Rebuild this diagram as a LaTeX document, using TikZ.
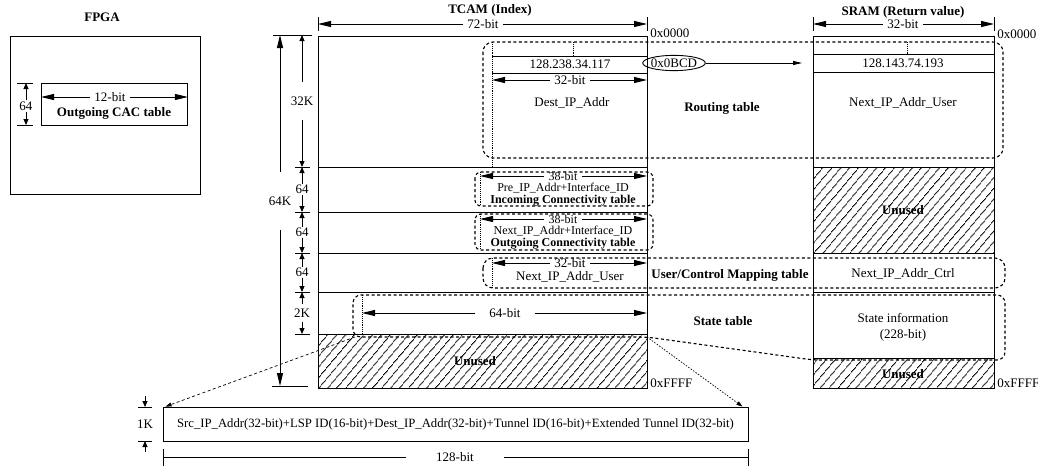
\documentclass[tikz,border=0pt]{standalone}
\usepackage{fontspec}
\setmainfont{Liberation Serif}
\usetikzlibrary{arrows.meta, shapes.geometric, patterns.meta}

\begin{document}
\begin{tikzpicture}[x=1pt, y=-1pt, line width=0.9pt,
    every node/.style={font=\fontsize{13}{15}\selectfont, inner sep=1pt},
    tbl/.style={font=\bfseries\fontsize{13}{15}\selectfont},
    small/.style={font=\fontsize{12}{13}\selectfont, inner ysep=0pt},
    smalltbl/.style={font=\bfseries\fontsize{12}{13}\selectfont, inner ysep=0pt},
    hexlbl/.style={anchor=west},
    dimtxt/.style={inner xsep=4pt},
    bigtip/.style={-{Triangle[length=13pt,width=6pt]}},
    smalltip/.style={-{Triangle[length=6pt,width=5pt]}},
    tickln/.style={line width=0.7pt},
    region/.style={dash pattern=on 3pt off 2.5pt, rounded corners=10pt, line width=1.1pt},
    unused/.style={draw, pattern={Lines[angle=50,distance=6.5pt,line width=0.8pt]}},
    mem/.style={draw, anchor=north west, inner sep=0pt},
    mapline/.style={dash pattern=on 3pt off 2.5pt, line width=0.7pt, -{Triangle[length=6pt,width=4pt]}},
  ]
  \useasboundingbox (0,0) rectangle (1038,466);

  % FPGA
  \node[tbl] (fpga) at (102,17) {FPGA};
  \node[mem, minimum width=190pt, minimum height=158pt] (fpgabox) at (10,36) {};
  \node[mem, minimum width=146pt, minimum height=42pt] (cac) at (41,83) {};
  \node[dimtxt] (w12) at (110,97) {12-bit};
  \draw[bigtip] (w12) -- (cac.west |- w12);
  \draw[bigtip] (w12) -- (cac.east |- w12);
  \node[tbl] (cacname) at (114,113) {Outgoing CAC table};
  \draw[tickln] (17,83) -- (33,83) (17,125) -- (33,125);
  \node (h64) at (26,106) {64};
  \draw[smalltip] (h64) -- (26,83);
  \draw[smalltip] (h64) -- (26,125);

  % TCAM
  \node[tbl] (tcamttl) at (490,10) {TCAM (Index)};
  \draw[tickln] (318,17) -- (318,31) (647,17) -- (647,31);
  \node[dimtxt] (w72) at (483,24) {72-bit};
  \draw[bigtip] (w72) -- (318,24);
  \draw[bigtip] (w72) -- (647,24);
  \node[mem, minimum width=329pt, minimum height=352pt] (tcam) at (318,36) {};
  \foreach \y in {167,212,253,292,334}
    \draw (318,\y) -- (647,\y);
  \draw[unused] (318,334) rectangle (647,388);
  \node[tbl] (tunused) at (475,361) {Unused};
  \node[hexlbl] (t0) at (649,33) {0x0000};
  \node[hexlbl] (tf) at (649,383) {0xFFFF};

  % sizes on the left
  \draw[tickln] (273,35) -- (312,35) (272,386) -- (308,386);
  \node[inner ysep=24pt] (d64k) at (280,201) {64K};
  \draw[bigtip] (d64k) -- (280,35);
  \draw[bigtip] (d64k) -- (280,386);
  \foreach \ya/\yb/\lab/\sep [count=\i] in {35/167/32K/14, 167/212/64/1, 212/253/64/1, 253/292/64/1, 292/334/2K/4} {
    \draw[tickln] (295,\yb) -- (310,\yb);
    \node[inner ysep=\sep pt] (dk\i) at (302,{(\ya+\yb)/2}) {\lab};
    \draw[smalltip] (dk\i) -- (302,\ya);
    \draw[smalltip] (dk\i) -- (302,\yb);
  }

  % routing table
  \draw (492,56) -- (647,56) (492,73) -- (647,73);
  \draw[densely dotted] (573,42) -- (573,56);
  \draw[densely dotted] (492,42) -- (492,167);
  \node (ip1) at (570,64) {128.238.34.117};
  \node[dimtxt] (w32a) at (570,80) {32-bit};
  \draw[bigtip] (w32a) -- (492,80);
  \draw[bigtip] (w32a) -- (647,80);
  \node (dst) at (572,103) {Dest\_IP\_Addr};
  \draw[region] (483,42) rectangle (1003,158);
  \node[tbl] (rt) at (722,108) {Routing table};
  \node[draw, ellipse, inner xsep=-1pt, inner ysep=1pt] (bcd) at (674,63) {0x0BCD};
  \coordinate (hit) at (802,63);
  \draw[-{Triangle[length=9pt,width=4pt]}] (bcd) -- (hit);

  % SRAM
  \node[tbl] (sramttl) at (903,12) {SRAM (Return value)};
  \draw[tickln] (813,17) -- (813,31) (994,17) -- (994,31);
  \node[dimtxt] (w32s) at (903,24) {32-bit};
  \draw[bigtip] (w32s) -- (813,24);
  \draw[bigtip] (w32s) -- (994,24);
  \node[mem, minimum width=181pt, minimum height=352pt] (sram) at (813,36) {};
  \foreach \y in {54,72,167,253,292,358}
    \draw (813,\y) -- (994,\y);
  \draw[densely dotted] (907,42) -- (907,54);
  \node (ip2) at (903,63) {128.143.74.193};
  \node (nxu) at (903,103) {Next\_IP\_Addr\_User};
  \draw[unused] (813,167) rectangle (994,253);
  \node[tbl] (sunused1) at (903,210) {Unused};
  \node (nxc) at (903,274) {Next\_IP\_Addr\_Ctrl};
  \node (sti) at (903,318) {State information};
  \node (stb) at (903,335) {(228-bit)};
  \draw[unused] (813,358) rectangle (994,388);
  \node[tbl] (sunused2) at (903,374) {Unused};
  \node[hexlbl] (s0) at (996,34) {0x0000};
  \node[hexlbl] (sf) at (996,383) {0xFFFF};

  % connectivity tables
  \draw[region, rounded corners=6pt] (475,172) rectangle (653,206);
  \draw[densely dotted] (480,172) -- (480,206);
  \node[dimtxt, small] (w38a) at (563,176) {38-bit};
  \draw[bigtip] (w38a) -- (480,176);
  \draw[bigtip] (w38a) -- (647,176);
  \node[small] (pre) at (563,188.5) {Pre\_IP\_Addr+Interface\_ID};
  \node[smalltbl] (inc) at (563,201) {Incoming Connectivity table};

  \draw[region, rounded corners=6pt] (475,214) rectangle (653,250);
  \draw[densely dotted] (480,214) -- (480,250);
  \node[dimtxt, small] (w38b) at (563,219) {38-bit};
  \draw[bigtip] (w38b) -- (480,219);
  \draw[bigtip] (w38b) -- (647,219);
  \node[small] (nxi) at (563,231.5) {Next\_IP\_Addr+Interface\_ID};
  \node[smalltbl] (outg) at (563,244) {Outgoing Connectivity table};

  % user/control mapping
  \draw[region] (483,258) rectangle (1005,288);
  \draw[densely dotted] (492,258) -- (492,288);
  \node[dimtxt] (w32u) at (570,263) {32-bit};
  \draw[bigtip] (w32u) -- (492,263);
  \draw[bigtip] (w32u) -- (647,263);
  \node (nxu2) at (570,277) {Next\_IP\_Addr\_User};
  \node[tbl] (ucm) at (730,275) {User/Control Mapping table};

  % state table
  \draw[region, rounded corners=8pt] (500,337) -- (353,337) -- (353,295) -- (1005,295) -- (1005,360) -- (813,360) -- (647,337) -- cycle;
  \draw[densely dotted] (362,295) -- (362,334);
  \node[inner xsep=14pt] (w64) at (505,313) {64-bit};
  \draw[bigtip] (w64) -- (362,313);
  \draw[bigtip] (w64) -- (647,313);
  \node[tbl] (stt) at (723,321) {State table};

  % one state entry
  \node[draw, minimum width=585pt, minimum height=34pt, inner sep=2pt, font=\fontsize{12.7}{14}\selectfont] (entry) at (455.5,424) {Src\_IP\_Addr(32-bit)+LSP ID(16-bit)+Dest\_IP\_Addr(32-bit)+Tunnel ID(16-bit)+Extended Tunnel ID(32-bit)};
  \coordinate (stl) at (355,337);
  \coordinate (str) at (647,337);
  \draw[mapline] (stl) -- ([xshift=3pt]entry.north west);
  \draw[mapline, dash pattern=on 1.5pt off 1.5pt] (str) -- ([xshift=-6pt]entry.north east);
  \draw[tickln] (138,407) -- (152,407) (138,441) -- (152,441);
  \node (h1k) at (145,424) {1K};
  \coordinate (k1a) at (145,396);
  \coordinate (k1b) at (145,452);
  \draw[smalltip] (k1a) -- (145,407);
  \draw[smalltip] (k1b) -- (145,441);
  \draw[tickln] (163,449) -- (163,466) (748,449) -- (748,466);
  \node[inner xsep=30pt] (w128) at (455,457) {128-bit};
  \draw (w128) -- (163,457);
  \draw (w128) -- (748,457);
\end{tikzpicture}
\end{document}
